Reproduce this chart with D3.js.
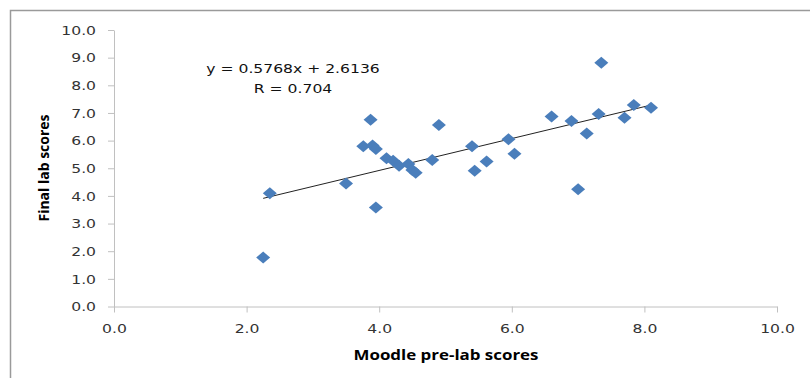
<!DOCTYPE html>
<html>
<head>
<meta charset="utf-8">
<script src="https://cdn.jsdelivr.net/npm/d3@7"></script>
<style>
  body { margin: 0; background: #fff; }
  svg { display: block; }
</style>
</head>
<body>
<div id="chart"></div>
<script>
// pre-lab (x) vs final lab (y)
const preLab = [2.25, 2.35, 3.5, 3.95, 3.87, 3.76, 3.9, 3.95, 4.11, 4.21,
                4.3, 4.44, 4.5, 4.55, 4.8, 4.9, 5.4, 5.44, 5.62, 5.95,
                6.04, 6.6, 6.9, 7.13, 7.31, 7.35, 7.0, 7.7, 7.84, 8.1];
const finalLab = [1.77, 4.1, 4.45, 3.58, 6.75, 5.8, 5.82, 5.7, 5.36, 5.27,
                  5.09, 5.15, 4.94, 4.84, 5.3, 6.56, 5.8, 4.91, 5.24, 6.05,
                  5.52, 6.87, 6.71, 6.26, 6.96, 8.82, 4.24, 6.83, 7.29, 7.19];
const xTicks = [0, 2, 4, 6, 8, 10];
const yTicks = [0, 1, 2, 3, 4, 5, 6, 7, 8, 9, 10];
const slope = 0.5768, intercept = 2.6136;
const eqLabel = 'y = 0.5768x + 2.6136';
const rLabel = 'R = 0.704';

const width = 810, height = 378;
const margin = { top: 30, right: 33, bottom: 71.5, left: 114 };
const w = width - margin.left - margin.right;
const h = height - margin.top - margin.bottom;
const stretch = 'scale(1.2,1)';

const svg = d3.select('#chart').append('svg')
  .attr('width', width)
  .attr('height', height);

// chart border (cut off on right and bottom)
svg.append('rect')
  .attr('x', 10.5).attr('y', 10.5)
  .attr('width', 900).attr('height', 500)
  .attr('fill', 'none')
  .attr('stroke', '#9a9a9a')
  .attr('stroke-width', 1.5);

const g = svg.append('g')
  .attr('transform', `translate(${margin.left},${margin.top})`);

const x = d3.scaleLinear().domain([0, 10]).range([0, w]);
const y = d3.scaleLinear().domain([0, 10]).range([h, 0]);

// X axis
const xAxis = g.append('g')
  .attr('transform', `translate(0,${h})`)
  .call(d3.axisBottom(x).tickValues(xTicks).tickFormat(d3.format('.1f'))
    .tickSizeOuter(0).tickPadding(11.5));
xAxis.select('.domain').attr('stroke', '#c0c0c0');
xAxis.selectAll('line').attr('stroke', '#c0c0c0');
xAxis.selectAll('text')
  .attr('transform', stretch)
  .attr('font-family', 'DejaVu Sans')
  .attr('font-size', 13)
  .attr('fill', '#333');

// Y axis
const yAxis = g.append('g')
  .call(d3.axisLeft(y).tickValues(yTicks).tickFormat(d3.format('.1f'))
    .tickSizeOuter(0).tickPadding(9));
yAxis.select('.domain').attr('stroke', '#c0c0c0');
yAxis.selectAll('line').attr('stroke', '#c0c0c0');
yAxis.selectAll('text')
  .attr('transform', stretch)
  .attr('font-family', 'DejaVu Sans')
  .attr('font-size', 13)
  .attr('fill', '#333');

// trendline over the data range
const xr = d3.extent(preLab);
g.append('line')
  .attr('x1', x(xr[0])).attr('y1', y(slope * xr[0] + intercept))
  .attr('x2', x(xr[1])).attr('y2', y(slope * xr[1] + intercept))
  .attr('stroke', '#222')
  .attr('stroke-width', 1);

// diamonds
const pts = preLab.map((v, i) => ({ x: v, y: finalLab[i] }));
g.selectAll('.dot')
  .data(pts)
  .enter().append('path')
  .attr('class', 'dot')
  .attr('d', 'M0,-6L7,0L0,6L-7,0Z')
  .attr('transform', d => `translate(${x(d.x)},${y(d.y)})`)
  .attr('fill', '#4a7ebb');

// trendline equation
const eq = svg.append('g').attr('transform', 'translate(293,73)');
eq.append('text')
  .attr('transform', stretch)
  .attr('text-anchor', 'middle')
  .attr('font-family', 'DejaVu Sans')
  .attr('font-size', 13)
  .attr('fill', '#111')
  .text(eqLabel);
const rq = svg.append('g').attr('transform', 'translate(293,93)');
rq.append('text')
  .attr('transform', stretch)
  .attr('text-anchor', 'middle')
  .attr('font-family', 'DejaVu Sans')
  .attr('font-size', 13)
  .attr('fill', '#111')
  .text(rLabel);

// axis titles
svg.append('text')
  .attr('x', 446).attr('y', 360)
  .attr('text-anchor', 'middle')
  .attr('font-family', 'Open Sans')
  .attr('font-weight', 'bold')
  .attr('font-size', 14)
  .attr('textLength', 185)
  .attr('lengthAdjust', 'spacingAndGlyphs')
  .text('Moodle pre-lab scores');

svg.append('text')
  .attr('transform', 'translate(49,168) rotate(-90)')
  .attr('text-anchor', 'middle')
  .attr('font-family', 'Open Sans')
  .attr('font-weight', 'bold')
  .attr('font-size', 15)
  .attr('textLength', 107)
  .attr('lengthAdjust', 'spacingAndGlyphs')
  .text('Final lab scores');
</script>
</body>
</html>
